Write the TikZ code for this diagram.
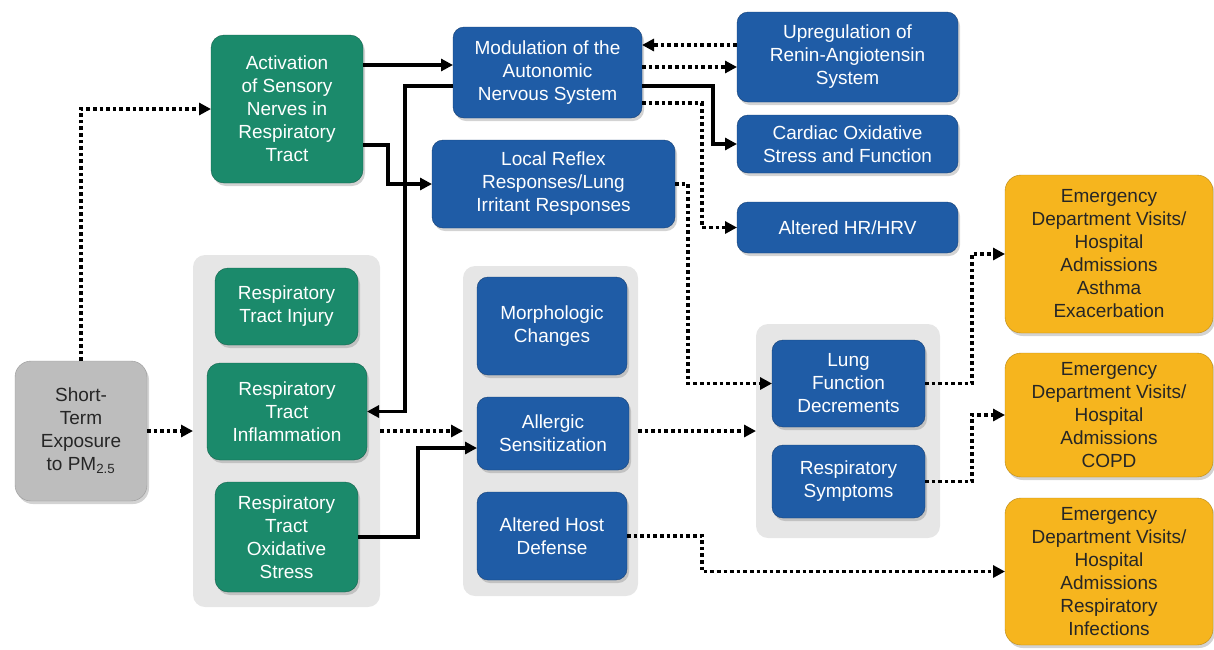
\documentclass[tikz,border=0pt]{standalone}
\usepackage{fontspec}
\setmainfont{Liberation Sans}
\usepackage{tikz}
\usetikzlibrary{arrows.meta,shadows}

\definecolor{boxgreen}{HTML}{1B8A6B}
\definecolor{boxblue}{HTML}{1F5CA6}
\definecolor{boxgold}{HTML}{F6B51E}
\definecolor{boxgrey}{HTML}{BDBDBD}
\definecolor{grpfill}{HTML}{E6E6E6}

\begin{document}
\begin{tikzpicture}[
        x=1pt, y=-1pt,
        >={Triangle[length=12pt,width=12pt]},
        % styles for the boxes
        box/.style={rectangle, rounded corners=13pt, align=center, inner sep=2pt, outer sep=0pt,
            font=\fontsize{19}{23}\selectfont,
            drop shadow={shadow xshift=2pt, shadow yshift=-3pt, opacity=0.35}},
        greenbox/.style={box, fill=boxgreen, draw=boxgreen!70!black, text=white},
        bluebox/.style={box, rounded corners=11pt, fill=boxblue, draw=boxblue!70!black, text=white},
        goldbox/.style={box, rounded corners=16pt, fill=boxgold, draw=boxgold!75!black, text=black!85},
        greybox/.style={box, rounded corners=16pt, fill=boxgrey, draw=black!40, text=black!85},
        % grey panel behind a group of boxes
        group/.style={rectangle, rounded corners=12pt, fill=grpfill, outer sep=0pt},
        % connectors
        solidarrow/.style={->, line width=3.8pt},
        dotarrow/.style={->, line width=3.4pt, dash pattern=on 3.6pt off 3pt}
    ]

        \useasboundingbox (0,0) rectangle (1214,649);

        % 1. grey panels
        \node[group, minimum width=187pt, minimum height=352pt] (grpresp) at (286.5,431) {};
        \node[group, minimum width=175pt, minimum height=330pt] (grpeffects) at (550.5,431) {};
        \node[group, minimum width=184pt, minimum height=214pt] (grplung) at (848,431) {};

        % 2. boxes, column by column
        \node[greybox, minimum width=132pt, minimum height=140pt] (exposure) at (81,431) {Short-\\Term\\Exposure\\to PM\textsubscript{2.5}};

        \node[greenbox, minimum width=152pt, minimum height=148pt] (activation) at (287,109) {Activation\\of Sensory\\Nerves in\\Respiratory\\Tract};
        \node[greenbox, minimum width=143pt, minimum height=77pt] (injury) at (286.5,306.5) {Respiratory\\Tract Injury};
        \node[greenbox, minimum width=160pt, minimum height=97pt] (inflammation) at (287,411.5) {Respiratory\\Tract\\Inflammation};
        \node[greenbox, minimum width=143pt, minimum height=110pt] (oxstress) at (286.5,537) {Respiratory\\Tract\\Oxidative\\Stress};

        \node[bluebox, minimum width=189pt, minimum height=91pt] (modulation) at (547.5,72.5) {Modulation of the\\Autonomic\\Nervous System};
        \node[bluebox, minimum width=243pt, minimum height=88pt] (reflex) at (553.5,184) {Local Reflex\\Responses/Lung\\Irritant Responses};
        \node[bluebox, minimum width=150pt, minimum height=98pt] (morph) at (552,326) {Morphologic\\Changes};
        \node[bluebox, minimum width=152pt, minimum height=73pt] (allergic) at (553,433.5) {Allergic\\Sensitization};
        \node[bluebox, minimum width=150pt, minimum height=88pt] (hostdef) at (552,536) {Altered Host\\Defense};

        \node[bluebox, minimum width=221pt, minimum height=90pt] (renin) at (847.5,57) {Upregulation of\\Renin-Angiotensin\\System};
        \node[bluebox, minimum width=221pt, minimum height=58pt] (cardiac) at (847.5,144) {Cardiac Oxidative\\Stress and Function};
        \node[bluebox, minimum width=221pt, minimum height=51pt] (hrv) at (847.5,227.5) {Altered HR/HRV};
        \node[bluebox, minimum width=153pt, minimum height=87pt] (lungfn) at (848.5,383.5) {Lung\\Function\\Decrements};
        \node[bluebox, minimum width=153pt, minimum height=73pt] (symptoms) at (848.5,481.5) {Respiratory\\Symptoms};

        \node[goldbox, minimum width=208pt, minimum height=158pt] (edasthma) at (1109,254) {Emergency\\Department Visits/\\Hospital\\Admissions\\Asthma\\Exacerbation};
        \node[goldbox, minimum width=208pt, minimum height=124pt] (edcopd) at (1109,415) {Emergency\\Department Visits/\\Hospital\\Admissions\\COPD};
        \node[goldbox, minimum width=208pt, minimum height=147pt] (edinfect) at (1109,571.5) {Emergency\\Department Visits/\\Hospital\\Admissions\\Respiratory\\Infections};

        % 3. points where connectors leave or enter a box off its middle
        \coordinate (act1) at ([yshift=44pt]activation.east);
        \coordinate (act2) at ([yshift=-36pt]activation.east);
        \coordinate (mod1) at ([yshift=-13.5pt]modulation.west);
        \coordinate (mod2) at ([yshift=5.5pt]modulation.east);
        \coordinate (mod3) at ([yshift=-13.5pt]modulation.east);
        \coordinate (mod4) at ([yshift=-30.5pt]modulation.east);
        \coordinate (ren1) at ([yshift=12pt]renin.west);
        \coordinate (all1) at ([yshift=-14.5pt]allergic.west);

        % 4. connectors
        \draw[dotarrow] (exposure.north) |- (activation.west);
        \draw[dotarrow] (exposure.east) -- (grpresp.west);
        \draw[solidarrow] (act1) -- (act1 -| modulation.west);
        \draw[solidarrow] (act2) -- ++(25,0) |- (reflex.west);
        \draw[solidarrow] (mod1) -- ++(-48,0) |- (inflammation.east);
        \draw[dotarrow] (grpresp.east) -- (grpeffects.west);
        \draw[solidarrow] (oxstress.east) -- ++(60,0) |- (all1);
        % right of the modulation box
        \draw[dotarrow] (ren1) -- (ren1 -| modulation.east);
        \draw[dotarrow] (mod2) -- (mod2 -| renin.west);
        \draw[solidarrow] (mod3) -- ++(71,0) |- (cardiac.west);
        \draw[dotarrow] (mod4) -- ++(60,0) |- (hrv.west);
        \draw[dotarrow] (reflex.east) -- ++(13,0) |- (lungfn.west);
        \draw[dotarrow] (grpeffects.east) -- (grplung.west);
        \draw[dotarrow] (hostdef.east) -- ++(75,0) |- (edinfect.west);
        % to the outcomes
        \draw[dotarrow] (lungfn.east) -- ++(47,0) |- (edasthma.west);
        \draw[dotarrow] (symptoms.east) -- ++(47,0) |- (edcopd.west);

    \end{tikzpicture}
\end{document}
